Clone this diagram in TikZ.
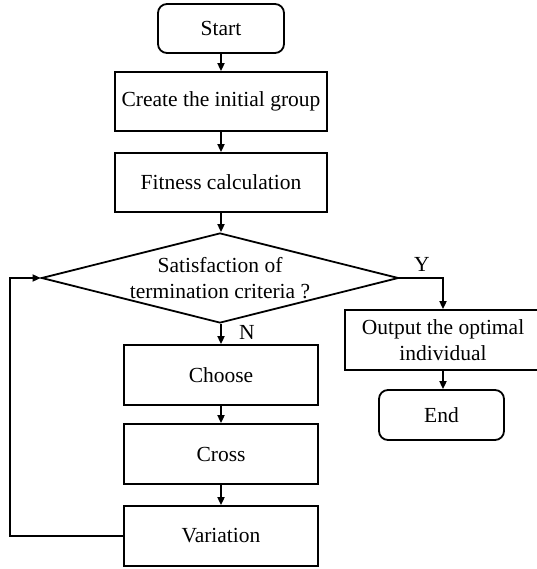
\documentclass[tikz,border=0pt]{standalone}
\usepackage{fontspec}
\setmainfont{Liberation Serif}
\usetikzlibrary{shapes.geometric,arrows.meta}
\begin{document}
\begin{tikzpicture}[x=1pt,y=-1pt,
  every node/.style={font=\fontsize{21.5}{26}\selectfont, inner sep=0pt},
  boxn/.style={draw, line width=1.8pt, rectangle, align=center},
  roundn/.style={draw, line width=1.8pt, rectangle, rounded corners=9pt, align=center},
  conn/.style={line width=1.8pt, -{Triangle[length=8pt,width=7pt]}}]
\useasboundingbox (0,0) rectangle (536,569);
\node[roundn, minimum width=126pt, minimum height=49pt] (start) at (221,28.5) {Start};
\node[boxn, minimum width=212pt, minimum height=59pt] (create) at (221,101.5) {Create the initial group};
\node[boxn, minimum width=212pt, minimum height=59pt] (fit) at (221,182.5) {Fitness calculation};
\node[draw, line width=1.8pt, diamond, aspect=3.97, minimum width=357pt, minimum height=90pt] (dia) at (220,278) {};
\node[align=center] (diatext) at (220,278) {Satisfaction of\\termination criteria ?};
\node[boxn, minimum width=196pt, minimum height=60pt] (out) at (443,340) {Output the optimal\\individual};
\node[roundn, minimum width=125pt, minimum height=50pt] (end) at (441.5,415) {End};
\node[boxn, minimum width=194pt, minimum height=60pt] (choose) at (221,375) {Choose};
\node[boxn, minimum width=194pt, minimum height=60pt] (cross) at (221,454) {Cross};
\node[boxn, minimum width=194pt, minimum height=60pt] (var) at (221,536) {Variation};
\coordinate (loopx) at (10,278);
\node (ylab) at (422,264) {Y};
\node (nlab) at (247,332) {N};
\draw[conn] (start.south) -- (start.south |- create.north);
\draw[conn] (start.south |- create.south) -- (start.south |- fit.north);
\draw[conn] (start.south |- fit.south) -- (start.south |- dia.north);
\draw[conn] (dia.east) -| (out.north);
\draw[conn] (out.south) -- (out.south |- end.north);
\draw[conn] (start.south |- dia.south) -- (start.south |- choose.north);
\draw[conn] (start.south |- choose.south) -- (start.south |- cross.north);
\draw[conn] (start.south |- cross.south) -- (start.south |- var.north);
\draw[conn] (var.west) -| (loopx) -- (dia.west);
\end{tikzpicture}
\end{document}
